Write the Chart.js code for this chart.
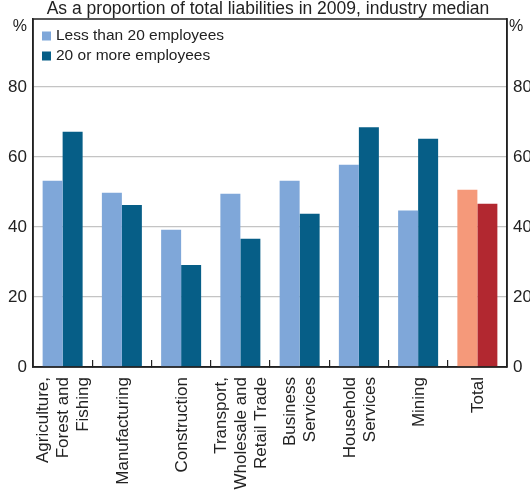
<!DOCTYPE html>
<html>
<head>
<meta charset="utf-8">
<script src="https://cdn.jsdelivr.net/npm/chart.js@4/dist/chart.umd.min.js"></script>
<style>
  html, body { margin: 0; padding: 0; background: #fff; }
</style>
</head>
<body>
<canvas id="chart" width="530" height="492"></canvas>
<script>
const categories = [
  ['Agriculture,', 'Forest and', 'Fishing'],
  'Manufacturing',
  'Construction',
  ['Transport,', 'Wholesale and', 'Retail Trade'],
  ['Business', 'Services'],
  ['Household', 'Services'],
  'Mining',
  'Total'
];
const smallFirms = [53.2, 49.8, 39.2, 49.5, 53.2, 57.8, 44.7, 50.6];
const largeFirms = [67.2, 46.3, 29.1, 36.6, 43.8, 68.5, 65.2, 46.6];
const yTicks = [0, 20, 40, 60, 80];
const seriesNames = ['Less than 20 employees', '20 or more employees'];
const title = 'As a proportion of total liabilities in 2009, industry median';

const lightBlue = '#7fa7d9', darkBlue = '#065e87';
const lightRed = '#f5997a', darkRed = '#b22830';
const font = 'Arial, "Liberation Sans", sans-serif';
const ink = '#222';

// total bar gets its own colours
const colours = (normal, total) => categories.map((c, i) => i === categories.length - 1 ? total : normal);

const extras = {
  id: 'extras',
  afterDraw(chart) {
    const { ctx, chartArea: a } = chart;
    ctx.save();
    // frame
    ctx.strokeStyle = ink;
    ctx.lineWidth = 1.5;
    ctx.strokeRect(a.left, a.top, a.right - a.left, a.bottom - a.top);
    // title
    ctx.fillStyle = ink;
    ctx.font = '17.5px ' + font;
    ctx.textAlign = 'center';
    ctx.textBaseline = 'alphabetic';
    ctx.fillText(title, 268, 13.5);
    // % units
    ctx.font = '16px ' + font;
    ctx.textBaseline = 'middle';
    ctx.textAlign = 'right';
    ctx.fillText('%', 27, 27);
    ctx.textAlign = 'left';
    ctx.fillText('%', 509, 27);
    // legend
    const sw = [lightBlue, darkBlue];
    ctx.font = '15.5px ' + font;
    seriesNames.forEach((n, i) => {
      const y = 36 + i * 20;
      ctx.fillStyle = sw[i];
      ctx.fillRect(42, y - 4.5, 9, 9);
      ctx.fillStyle = ink;
      ctx.fillText(n, 56, y);
    });
    // category labels, rotated, lines centred on the category
    const xs = chart.scales.x;
    ctx.font = '17px ' + font;
    ctx.textAlign = 'right';
    ctx.textBaseline = 'middle';
    categories.forEach((c, i) => {
      const lines = [].concat(c);
      const px = xs.getPixelForTick(i) + 1;
      lines.forEach((t, j) => {
        const off = (j - (lines.length - 1) / 2) * 20;
        ctx.save();
        ctx.translate(px + off, a.bottom + 10);
        ctx.rotate(-Math.PI / 2);
        ctx.fillText(t, 0, 0);
        ctx.restore();
      });
    });
    ctx.restore();
  }
};

const yAxis = (pos, w) => ({
  position: pos,
  min: 0,
  max: 99.4,
  afterBuildTicks: s => { s.ticks = yTicks.map(v => ({ value: v })); },
  afterFit: s => { s.width = w; },
  grid: { display: pos === 'left', color: '#c4c4c4', lineWidth: 1.2, drawTicks: false },
  border: { display: true, color: ink, width: 1.5 },
  ticks: { color: ink, font: { size: 17, family: font }, padding: 6 }
});

new Chart(document.getElementById('chart'), {
  type: 'bar',
  data: {
    labels: categories,
    datasets: [
      { label: seriesNames[0], data: smallFirms, backgroundColor: colours(lightBlue, lightRed), yAxisID: 'y' },
      { label: seriesNames[1], data: largeFirms, backgroundColor: colours(darkBlue, darkRed), yAxisID: 'y' }
    ]
  },
  options: {
    responsive: false,
    animation: false,
    layout: { padding: { top: 19 } },
    categoryPercentage: 0.675,
    barPercentage: 1,
    scales: {
      x: {
        afterFit: s => { s.height = 125; },
        grid: { offset: true, drawOnChartArea: false, tickLength: -7, color: ink, lineWidth: 1.2 },
        border: { display: true, color: ink, width: 1.5 },
        ticks: { display: false, autoSkip: false }
      },
      y: yAxis('left', 33),
      y2: yAxis('right', 23)
    },
    plugins: {
      legend: { display: false },
      tooltip: { enabled: false }
    }
  },
  plugins: [extras]
});
</script>
</body>
</html>
